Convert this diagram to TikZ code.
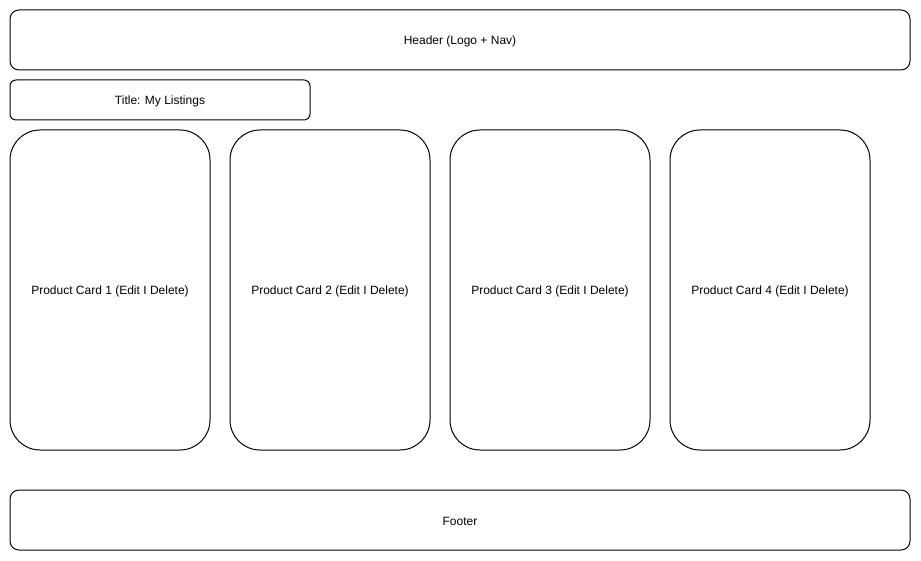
\documentclass[tikz,border=0pt]{standalone}
\usepackage{fontspec}
\setmainfont{Liberation Sans}
\begin{document}
\begin{tikzpicture}[x=1pt,y=-1pt,
  box/.style={draw=black,line width=1pt,fill=white,inner sep=0pt},
  lbl/.style={font=\fontsize{12}{14}\selectfont,yshift=-1.5pt},
  bigbox/.style={box,rounded corners=9pt},
  titlebox/.style={box,rounded corners=6pt},
  card/.style={box,rounded corners=30pt}]
\useasboundingbox[fill=white] (0,0) rectangle (921,561);
\draw[bigbox] (10,10) rectangle (910,70) node[midway,lbl] (header) {Header (Logo + Nav)};
\draw[titlebox] (10,80) rectangle (310,120) node[midway,lbl] (title) {Title: My Listings};
\draw[card] (10,130) rectangle (210,450) node[midway,lbl] (c1) {Product Card 1 (Edit I Delete)};
\draw[card] (230,130) rectangle (430,450) node[midway,lbl] (c2) {Product Card 2 (Edit I Delete)};
\draw[card] (450,130) rectangle (650,450) node[midway,lbl] (c3) {Product Card 3 (Edit I Delete)};
\draw[card] (670,130) rectangle (870,450) node[midway,lbl] (c4) {Product Card 4 (Edit I Delete)};
\draw[bigbox] (10,490) rectangle (910,550) node[midway,lbl] (footer) {Footer};
\end{tikzpicture}
\end{document}
